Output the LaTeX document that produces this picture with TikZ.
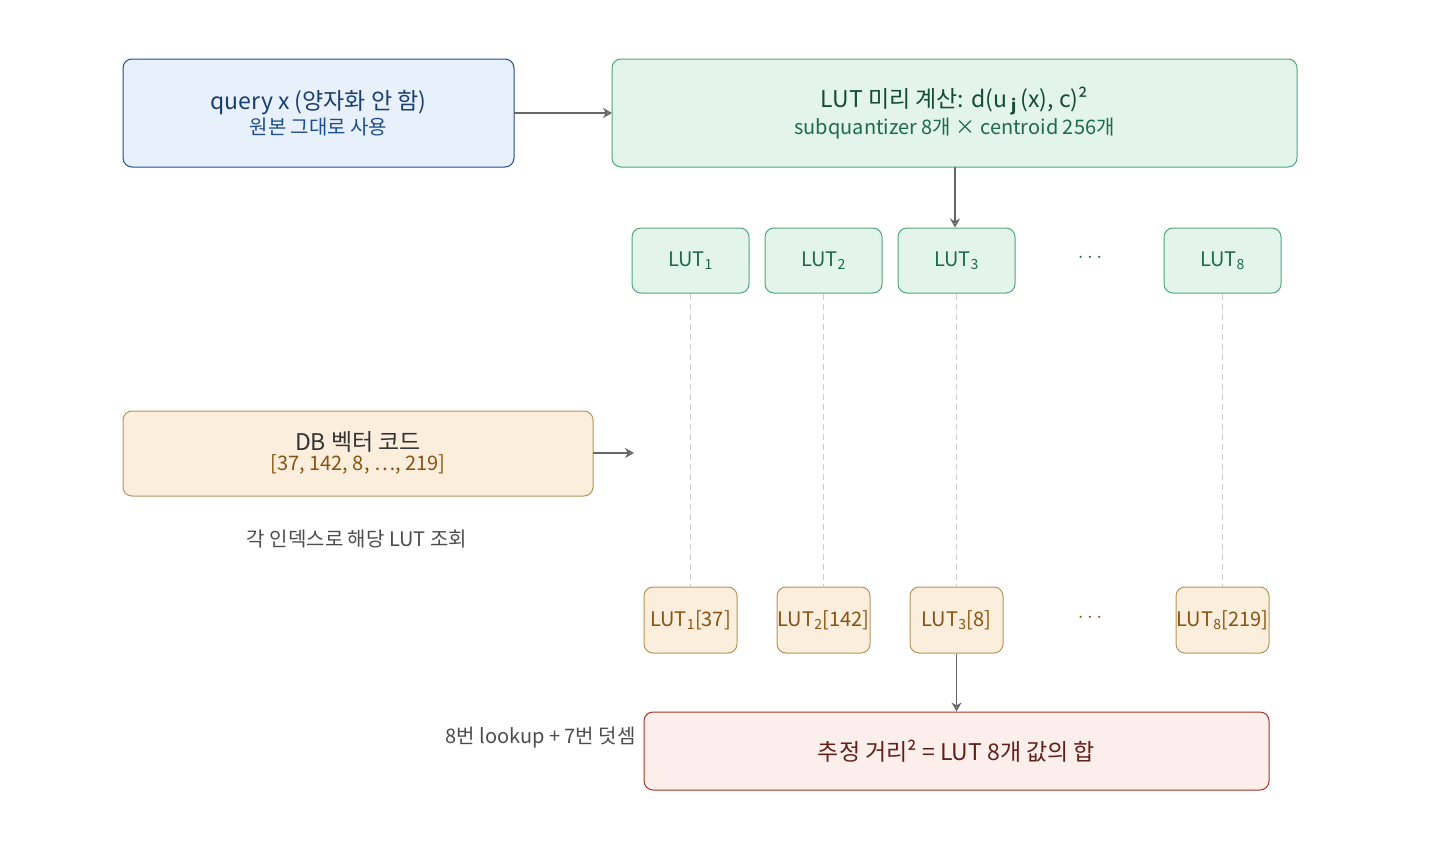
\documentclass[tikz,border=0pt]{standalone}
\usepackage{fontspec}
\setmainfont{Noto Sans CJK KR}
\usepackage{xcolor}
\usetikzlibrary{arrows.meta}
\definecolor{qfill}{HTML}{E8F0FB}
\definecolor{qdraw}{HTML}{1F4E8C}
\definecolor{gfill}{HTML}{E3F4EC}
\definecolor{gdraw}{HTML}{4FA77E}
\definecolor{gtext}{HTML}{1C6B4A}
\definecolor{ofill}{HTML}{FBEEDC}
\definecolor{odraw}{HTML}{B8945A}
\definecolor{otext}{HTML}{8A5210}
\definecolor{rfill}{HTML}{FCEEEA}
\definecolor{rdraw}{HTML}{A5352A}
\tikzset{
  box/.style={rounded corners=9pt, line width=1pt, inner sep=0pt},
  lut/.style={box, fill=gfill, draw=gdraw, minimum width=117pt, minimum height=65pt, text=gtext, font=\fontsize{20}{24}\selectfont},
  look/.style={box, fill=ofill, draw=odraw, minimum width=93pt, minimum height=66pt, text=otext, font=\fontsize{20}{24}\selectfont},
  arr/.style={-{Stealth[open,length=9pt,width=10pt]}, draw=black!60, line width=1.5pt},
  guide/.style={draw=black!20, line width=1pt, dash pattern=on 6pt off 4pt},
  note/.style={text=black!70, font=\fontsize{20}{24}\selectfont},
}
\begin{document}
\begin{tikzpicture}[x=1pt,y=-1pt]
\useasboundingbox (0,0) rectangle (1440,841);
% top row
\draw[box, fill=qfill, draw=qdraw] (123,59) rectangle (514,167);
\node (query) at (318.5,113) [align=center] {\fontsize{23}{28}\selectfont\color{qdraw!80!black}query x (양자화 안 함)\\[2pt]\fontsize{20}{24}\selectfont\color{qdraw}원본 그대로 사용};
\draw[box, fill=gfill, draw=gdraw] (612,59) rectangle (1297,167);
\node (pre) at (954.5,113) [align=center] {\fontsize{23}{28}\selectfont\color{gtext!70!black}LUT 미리 계산: d(u\,\textsubscript{\textbf{j}}\,(x), c)²\\[2pt]\fontsize{20}{24}\selectfont\color{gtext}subquantizer 8개 × centroid 256개};
\coordinate (qr) at (514,113);
\coordinate (pl) at (612,113);
\coordinate (pb) at (955,167);
\draw[arr] (qr) -- (pl);
% LUT tables
\node[lut] (lut1) at (690.5,260.5) {LUT\textsubscript{1}};
\node[lut] (lut2) at (823.5,260.5) {LUT\textsubscript{2}};
\node[lut] (lut3) at (956.5,260.5) {LUT\textsubscript{3}};
\node[lut] (lut8) at (1222.5,260.5) {LUT\textsubscript{8}};
\node[text=gtext, font=\fontsize{20}{24}\selectfont] (dots1) at (1090,258) {$\cdots$};
\draw[arr] (pb) -- (lut3.north -| pb);
% DB code
\draw[box, fill=ofill, draw=odraw] (123,411) rectangle (593,496);
\node (db) at (358,453) [align=center] {\fontsize{23}{28}\selectfont\color{black!80}DB 벡터 코드\\[2pt]\fontsize{20}{24}\selectfont\color{otext}[37, 142, 8, ⋯, 219]};
\coordinate (dbr) at (593,453);
\coordinate (dbend) at (634,453);
\draw[arr] (dbr) -- (dbend);
\node[note] (idx) at (357,539) {각 인덱스로 해당 LUT 조회};
% lookups
\node[look] (get1) at (690.5,620) {LUT\textsubscript{1}[37]};
\node[look] (get2) at (823.5,620) {LUT\textsubscript{2}[142]};
\node[look] (get3) at (956.5,620) {LUT\textsubscript{3}[8]};
\node[look] (get8) at (1222.5,620) {LUT\textsubscript{8}[219]};
\node[text=otext, font=\fontsize{20}{24}\selectfont] (dots2) at (1090,618) {$\cdots$};
\foreach \i in {1,2,3,8}
  \draw[guide] (lut\i.south) -- (get\i.north);
% sum
\node[box, fill=rfill, draw=rdraw, minimum width=625pt, minimum height=78pt, text=rdraw!60!black, font=\fontsize{23}{28}\selectfont] (sum) at (956.5,751) {추정 거리² = LUT 8개 값의 합};
\draw[arr] (get3) -- (sum);
\node[note, anchor=east] (ops) at (639,738) {8번 lookup + 7번 덧셈};
\end{tikzpicture}
\end{document}
